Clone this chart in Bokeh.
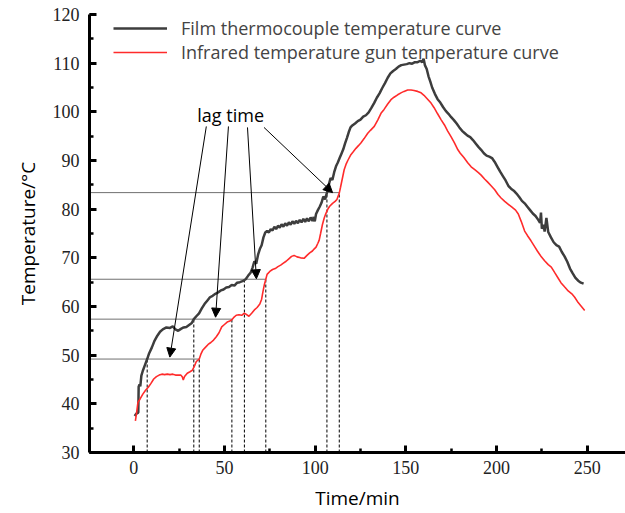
from bokeh.plotting import figure
from bokeh.models import (Range1d, SingleIntervalTicker, Legend, LegendItem,
                          Arrow, NormalHead, ColumnDataSource)
from bokeh.core.properties import value
from bokeh.embed import file_html
from bokeh.resources import INLINE

# ---------------- data ----------------
film_t = [0.5, 1.5, 2.5, 2.7, 3.2, 3.6, 4.2, 5.0, 6.0, 7.4, 8.5, 10, 11.5, 13, 14.5, 16, 18, 20, 21.5,
          23, 24.5, 26, 27.5, 29, 30.5, 32, 33.1, 34.5, 36, 37.5, 39, 40.5, 42, 43.5, 45, 46.5, 48,
          49.5, 51, 52.5, 54, 55.5, 57, 58.5, 60, 61.7, 63, 64.5, 65.5, 66.5, 67.5, 68.5, 69.5,
          70.5, 71.5, 72.5, 73.5, 74.5, 75.5, 76.5, 77.5, 78.5, 79.5, 80.5, 81.5, 82.5, 83.5,
          84.5, 85.5, 86.5, 87.5, 88.5, 89.5, 90.5, 91.5, 92.5, 93.5, 94.5, 95.5, 96.5, 97.5,
          98.5, 99.2, 99.8, 100.5, 101.5, 102.5, 103.5, 104.5, 105.5, 106.5, 107.5, 108.5,
          109.5, 110.5, 111.5, 112.5, 113.5, 114.5, 115.5, 116.5, 117.5, 118.5, 119.5, 120.5, 122,
          123.5, 125, 126.5, 128, 129.5, 131, 132.5, 134, 135.5, 137, 138.5, 140, 141.5, 143,
          144.5, 146, 147.5, 149, 150.5, 152, 153.5, 155, 156.5, 158, 159, 159.8, 160.5, 161.5,
          162.5, 163.5, 164.5, 166, 167.5, 169, 170.5, 172, 173.5, 175, 176.5, 178, 179.5, 181,
          182.5, 184, 185.5, 187, 188.5, 190, 191.5, 193, 194.5, 196, 197.5, 199, 200.5, 202,
          203.5, 205, 206.5, 208, 209.5, 211, 212.5, 214, 215.5, 217, 218.5, 220, 221.5, 223,
          224, 224.5, 225, 226, 226.5, 227.5, 228.5, 230, 231.5, 233, 234.5, 236, 237.5, 239,
          240.5, 242, 243.5, 245, 246.5, 248]
film_temp = [37.5, 38.0, 38.2, 43.5, 44.0, 43.6, 45.8, 46.8, 47.8, 49.2, 50.4, 51.6, 53.0, 54.0, 54.8,
             55.3, 55.7, 55.6, 55.9, 55.3, 55.0, 55.4, 55.7, 55.8, 56.2, 56.6, 57.4, 58.0, 58.6,
             59.6, 60.5, 61.2, 61.9, 62.2, 62.6, 62.9, 63.3, 63.5, 63.9, 64.0, 64.4, 64.3, 64.9,
             65.0, 65.2, 65.6, 66.3, 67.0, 68.0, 69.3, 68.8, 70.6, 71.8, 72.6, 74.2, 75.2,
             75.5, 75.2, 75.9, 75.6, 76.4, 75.9, 76.6, 76.2, 76.9, 76.4, 77.1, 76.6, 77.3, 76.8,
             77.5, 77.0, 77.6, 77.1, 77.8, 77.3, 78.0, 77.4, 78.1, 77.5, 78.3, 77.6, 78.4, 77.5,
             79.0, 79.8, 80.5, 81.3, 82.6, 82.0, 83.4, 85.0, 86.4, 86.0,
             87.6, 88.8, 89.6, 90.5, 91.4, 92.3, 93.5, 94.6, 95.8, 96.8, 97.2, 97.6, 98.1, 98.4,
             99.0, 99.3, 99.9, 100.8, 101.8, 102.9, 103.8, 104.9, 105.9, 107.0, 107.9, 108.4,
             108.8, 109.3, 109.6, 109.7, 109.8, 110.0, 109.9, 110.2, 110.2, 110.5, 110.2, 110.9,
             109.6, 108.8, 107.3, 106.2, 105.0, 103.7, 102.6, 101.9, 101.0, 100.2, 99.6, 98.9,
             98.3, 97.6, 96.8, 96.1, 95.6, 95.1, 94.8, 94.2, 93.5, 92.8, 92.2, 91.5, 91.0, 90.8,
             90.5, 89.7, 88.7, 87.7, 86.8, 85.9, 84.8, 84.2, 83.8, 83.2, 82.5, 81.7, 81.2, 80.5,
             79.8, 79.1, 78.6, 77.8, 77.2, 79.3, 76.0, 76.8, 75.4, 78.2, 75.3, 74.2, 73.2, 72.6,
             72.3, 71.2, 70.3, 69.2, 67.8, 66.8, 65.9, 65.3, 64.9, 64.7]

ir_t = [0.9, 1.5, 2.3, 3.5, 5, 6.5, 8, 9.5, 11, 12.5, 14, 15.5, 17, 18.5, 20, 21.5, 23, 24.5, 26, 26.8,
        27.3, 28, 29.5, 31, 32.3, 33.5, 34.5, 36.1, 37, 38, 39.5, 41, 42.5, 44, 45.5, 47, 48.5, 50,
        51.5, 53, 54.1, 55, 56.5, 58, 59.5, 60.8, 62, 63.5, 65, 66.5, 68, 69.5, 70.5, 71.2, 72,
        72.8, 73.5, 75, 76.5, 78, 79.5, 81, 82.5, 84, 85.5, 87, 88.4, 90, 92, 93.9, 95.5, 97, 98.5,
        99.4, 100.5, 101.5, 102.2, 103, 104, 105, 105.9, 107, 108, 109.6, 111, 112, 113.3, 114,
        115, 116, 117, 118, 119.7, 121, 122.5, 124, 125.2, 127, 129, 130.5, 132.6, 134.5, 136.3,
        138, 140, 141.8, 143.5, 145.5, 147.3, 149, 151, 152.9, 154.5, 156.5, 158.4, 160, 162,
        163.9, 165.5, 167.5, 169.4, 171.3, 173, 174.9, 176.8, 178.7, 180, 182, 184, 186, 188,
        190, 191.5, 193.4, 195, 197, 199, 200.8, 202.5, 204.5, 206.5, 208.5, 210.5, 212, 213.6,
        215.5, 217, 219, 221, 222.5, 224.7, 226.5, 228.5, 230.2, 232, 234, 235.5, 237.6, 239.5,
        241.5, 243.1, 245, 246.8, 248.6]
ir_temp = [36.5, 38.0, 40.3, 41.0, 42.0, 42.8, 43.4, 44.2, 45.1, 45.6, 45.9, 46.1, 46.0, 46.1, 46.0,
           46.1, 45.9, 45.9, 45.9, 45.5, 44.9, 45.6, 46.3, 46.6, 46.9, 47.8, 48.7, 49.2, 50.2,
           51.0, 51.6, 52.2, 52.6, 53.1, 53.8, 54.6, 55.8, 56.3, 56.8, 57.0, 57.3, 57.7, 58.2,
           58.3, 58.2, 58.6, 58.4, 58.0, 58.6, 59.3, 59.8, 60.5, 61.5, 63.0, 64.5, 65.6, 66.6,
           67.2, 67.6, 67.8, 68.2, 68.5, 68.9, 69.3, 69.8, 70.3, 70.5, 70.2, 70.0, 69.9, 70.5,
           71.0, 71.4, 71.8, 72.2, 73.0, 73.6, 75.0, 76.8, 78.2, 79.1, 80.0, 80.6, 81.2, 81.6,
           82.0, 83.3, 84.5, 86.3, 88.1, 89.2, 90.0, 91.2, 91.8, 92.5, 93.1, 93.6, 94.5, 95.6,
           96.2, 97.0, 98.3, 99.7, 100.5, 101.6, 102.5, 103.0, 103.5, 103.9, 104.2, 104.5, 104.5,
           104.4, 104.2, 103.9, 103.4, 102.6, 101.8, 100.9, 99.6, 98.4, 97.3, 96.1, 94.9, 93.6,
           92.2, 91.5, 90.6, 89.6, 88.7, 88.1, 87.5, 87.0, 86.2, 85.6, 84.8, 84.0, 83.0, 82.3,
           81.6, 81.0, 80.4, 79.8, 79.0, 77.5, 75.5, 74.6, 73.5, 72.3, 71.4, 70.2, 69.4, 68.6,
           68.1, 67.0, 65.8, 64.9, 64.0, 63.2, 62.6, 61.9, 60.8, 60.0, 59.2]

# lag-time annotation data
lag_levels = [49.2, 57.4, 65.6, 83.4]       # temperature levels
lag_film_t = [7.4, 33.1, 61.0, 106.5]       # film thermocouple reaches level
lag_ir_t = [36.1, 54.1, 72.8, 113.3]        # IR gun reaches level
arrow_x0 = [40.0, 52.2, 62.7, 71.8]
arrow_y0 = [97.0, 97.0, 96.8, 96.8]
arrow_x1 = [19.9, 45.1, 67.6, 109.6]
arrow_y1 = [49.6, 57.8, 65.7, 83.4]
lag_label = "lag time"
lag_label_x, lag_label_y = 53.4, 99.4

x_min, x_max = -24.4, 271.1
y_min, y_max = 30, 120

# ---------------- figure ----------------
p = figure(width=625, height=513, output_backend="svg", toolbar_location=None,
           x_range=Range1d(x_min, x_max), y_range=Range1d(y_min, y_max),
           min_border_left=89, min_border_right=0, min_border_top=14, min_border_bottom=61)
p.xgrid.visible = False
p.ygrid.visible = False
p.outline_line_color = None
p.background_fill_color = "white"

# helper lines
p.segment(x0=[x_min] * len(lag_levels), y0=lag_levels, x1=lag_ir_t, y1=lag_levels,
          line_color="#707070", line_width=1)
p.segment(x0=lag_film_t, y0=[y_min] * 4, x1=lag_film_t, y1=lag_levels,
          line_color="black", line_width=1, line_dash="3 2")
p.segment(x0=lag_ir_t, y0=[y_min] * 4, x1=lag_ir_t, y1=lag_levels,
          line_color="black", line_width=1, line_dash="3 2")

r_film = p.line(film_t, film_temp, line_color="#3d3d3d", line_width=2.5)
r_ir = p.line(ir_t, ir_temp, line_color="#ff2b2b", line_width=1.6)

asrc = ColumnDataSource(dict(x0=arrow_x0, y0=arrow_y0, x1=arrow_x1, y1=arrow_y1))
p.add_layout(Arrow(source=asrc, x_start="x0", y_start="y0", x_end="x1", y_end="y1",
                   line_color="black", line_width=1,
                   end=NormalHead(size=9, fill_color="black", line_color="black", line_width=1)))

p.text(x=[lag_label_x], y=[lag_label_y], text=[lag_label], text_align="center",
       text_baseline="middle", text_font=value("Open Sans"), text_font_size="18px",
       text_color="black")

legend = Legend(items=[LegendItem(label="Film thermocouple temperature curve", renderers=[r_film]),
                       LegendItem(label="Infrared temperature gun temperature curve", renderers=[r_ir])],
                location=(24, 388), padding=0, margin=0, spacing=0, label_height=20,
                glyph_height=20, glyph_width=54, label_standoff=14,
                label_text_font="Open Sans", label_text_font_size="18px",
                border_line_alpha=0, background_fill_alpha=0)
p.add_layout(legend)

# axes
p.xaxis.ticker = SingleIntervalTicker(interval=50, num_minor_ticks=2)
p.yaxis.ticker = SingleIntervalTicker(interval=10, num_minor_ticks=2)
for ax in (p.xaxis[0], p.yaxis[0]):
    ax.axis_line_width = 3
    ax.axis_line_color = "black"
    ax.major_tick_in = 7
    ax.major_tick_out = 0
    ax.major_tick_line_width = 3
    ax.minor_tick_in = 4
    ax.minor_tick_out = 0
    ax.minor_tick_line_width = 2.5
    ax.major_label_text_font = "Liberation Serif"
    ax.major_label_text_font_size = "18px"
    ax.major_label_text_color = "#222222"
    ax.axis_label_text_font = "Open Sans"
    ax.axis_label_text_font_size = "19px"
    ax.axis_label_text_font_style = "normal"
    ax.axis_label_text_color = "black"
p.xaxis.axis_label = "Time/min"
p.yaxis.axis_label = "Temperature/°C"
p.xaxis.major_label_standoff = 8
p.yaxis.major_label_standoff = 10
p.xaxis.axis_label_standoff = 8
p.yaxis.axis_label_standoff = 9

open("out.html", "w").write(file_html(p, INLINE))
